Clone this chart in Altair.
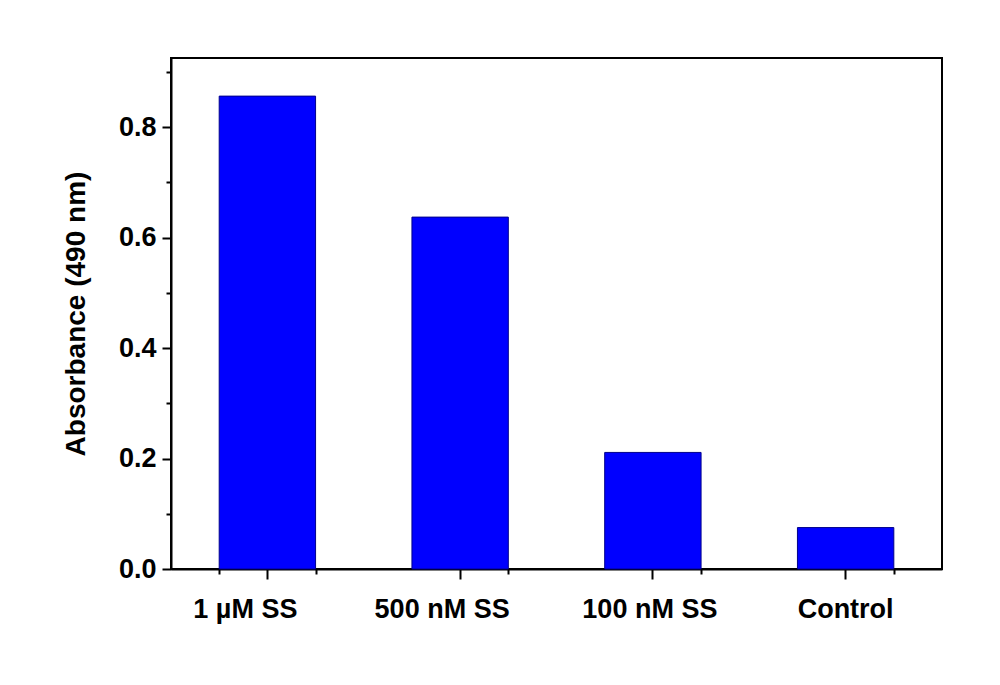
import altair as alt
import pandas as pd

categories = ["1 µM SS", "500 nM SS", "100 nM SS", "Control"]
absorbance = [0.856, 0.637, 0.211, 0.075]
major_y = [0.0, 0.2, 0.4, 0.6, 0.8]
minor_y = [0.1, 0.3, 0.5, 0.7, 0.9]

df = pd.DataFrame({"cat": categories, "val": absorbance})

FONT = "Liberation Sans"

xscale = alt.Scale(paddingInner=0.5, paddingOuter=0.25)
yscale = alt.Scale(domain=[0, 0.925], nice=False, zero=True)

base = alt.Chart(df)

label_offset = {
    "condition": [
        {"test": f"datum.value == '{categories[0]}'", "value": -22},
        {"test": f"datum.value == '{categories[1]}'", "value": -18},
        {"test": f"datum.value == '{categories[2]}'", "value": -3},
    ],
    "value": 0,
}

bars = base.mark_bar(color="#0000FF", stroke="#00008B", strokeWidth=1).encode(
    x=alt.X("cat:N", sort=categories, scale=xscale,
            axis=alt.Axis(title=None, orient="bottom", labelAngle=0, labelFont=FONT,
                          labelFontSize=27, labelFontWeight="bold", labelColor="black",
                          labelPadding=17, labelOffset=label_offset,
                          tickSize=10, tickWidth=2, tickColor="black",
                          domainColor="black", domainWidth=2, grid=False)),
    y=alt.Y("val:Q", scale=yscale,
            axis=alt.Axis(title="Absorbance (490 nm)", orient="left", values=major_y,
                          format=".1f", labelFont=FONT, labelFontSize=27,
                          labelFontWeight="bold", labelColor="black", labelPadding=6,
                          tickSize=9, tickWidth=2, tickColor="black",
                          domainColor="black", domainWidth=2, grid=False,
                          titleFont=FONT, titleFontSize=28, titleFontWeight="bold",
                          titleColor="black", titlePadding=28)),
)

minor = base.mark_bar(opacity=0).encode(
    x=alt.X("cat:N", sort=categories, scale=xscale,
            axis=alt.Axis(title=None, orient="bottom", labels=False, tickBand="extent",
                          tickSize=5, tickWidth=2, tickColor="black",
                          domain=False, grid=False)),
    y=alt.Y("val:Q", scale=yscale,
            axis=alt.Axis(title=None, orient="left", values=minor_y, labels=False,
                          tickSize=5, tickWidth=2, tickColor="black",
                          domain=False, grid=False)),
)

chart = alt.layer(bars, minor).resolve_axis(x="independent", y="independent").properties(
    width=771, height=511,
    padding={"left": 54, "top": 50, "right": 30, "bottom": 20},
    background="white",
).configure_view(stroke="black", strokeWidth=2)

chart.save("out.html", embed_options={"renderer": "svg", "actions": False})
